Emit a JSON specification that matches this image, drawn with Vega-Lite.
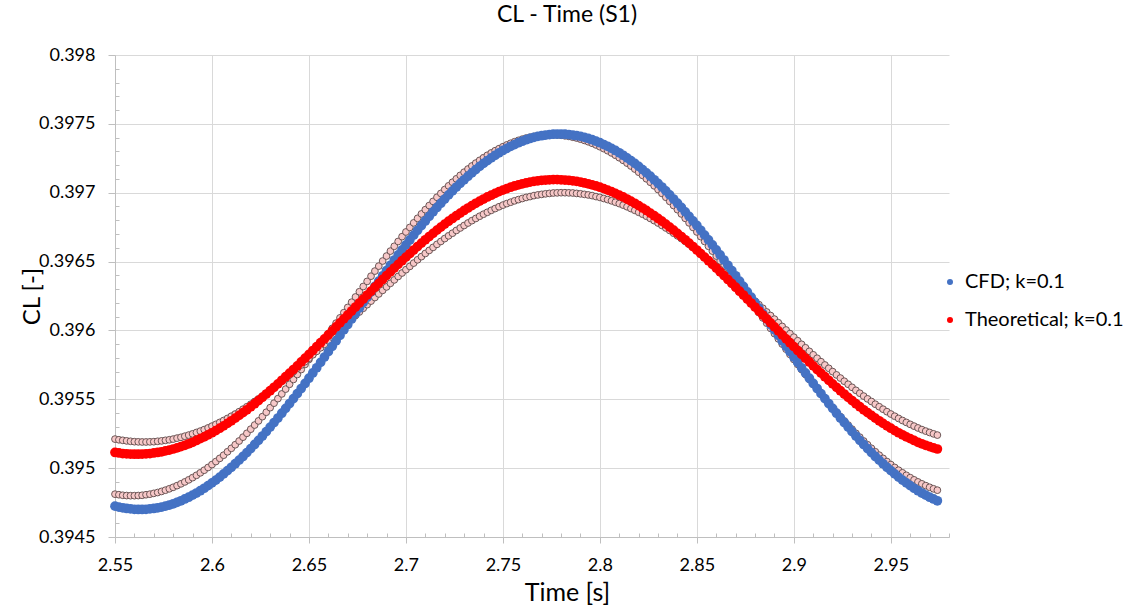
{
  "$schema": "https://vega.github.io/schema/vega-lite/v6.json",
  "width": 834,
  "height": 482,
  "autosize": "none",
  "padding": {"left": 115, "top": 55, "right": 186, "bottom": 70},
  "background": "white",
  "config": {"font": "Lato", "view": {"stroke": null}},
  "title": {"text": "CL - Time (S1)", "fontSize": 23, "font": "Lato", "fontWeight": "normal", "color": "#000000", "anchor": "middle", "dx": 35, "offset": 19},
  "data": {"values": [
{"t":2.550,"a":0.394724,"b":0.395114,"c":0.394811,"d":0.395211},
{"t":2.552,"a":0.394717,"b":0.395110,"c":0.394807,"d":0.395206},
{"t":2.554,"a":0.394712,"b":0.395106,"c":0.394803,"d":0.395202},
{"t":2.556,"a":0.394707,"b":0.395104,"c":0.394801,"d":0.395198},
{"t":2.558,"a":0.394704,"b":0.395102,"c":0.394800,"d":0.395195},
{"t":2.560,"a":0.394701,"b":0.395101,"c":0.394800,"d":0.395192},
{"t":2.562,"a":0.394700,"b":0.395101,"c":0.394801,"d":0.395191},
{"t":2.564,"a":0.394700,"b":0.395102,"c":0.394803,"d":0.395190},
{"t":2.566,"a":0.394701,"b":0.395104,"c":0.394807,"d":0.395190},
{"t":2.568,"a":0.394704,"b":0.395106,"c":0.394811,"d":0.395191},
{"t":2.570,"a":0.394707,"b":0.395110,"c":0.394817,"d":0.395192},
{"t":2.572,"a":0.394712,"b":0.395114,"c":0.394823,"d":0.395195},
{"t":2.574,"a":0.394717,"b":0.395119,"c":0.394831,"d":0.395198},
{"t":2.576,"a":0.394724,"b":0.395125,"c":0.394840,"d":0.395202},
{"t":2.578,"a":0.394732,"b":0.395131,"c":0.394850,"d":0.395206},
{"t":2.580,"a":0.394741,"b":0.395139,"c":0.394861,"d":0.395211},
{"t":2.582,"a":0.394752,"b":0.395147,"c":0.394873,"d":0.395218},
{"t":2.584,"a":0.394763,"b":0.395156,"c":0.394886,"d":0.395224},
{"t":2.586,"a":0.394776,"b":0.395166,"c":0.394900,"d":0.395232},
{"t":2.588,"a":0.394789,"b":0.395177,"c":0.394915,"d":0.395240},
{"t":2.590,"a":0.394804,"b":0.395188,"c":0.394931,"d":0.395249},
{"t":2.592,"a":0.394819,"b":0.395201,"c":0.394948,"d":0.395259},
{"t":2.594,"a":0.394836,"b":0.395214,"c":0.394966,"d":0.395269},
{"t":2.596,"a":0.394854,"b":0.395227,"c":0.394985,"d":0.395280},
{"t":2.598,"a":0.394873,"b":0.395242,"c":0.395005,"d":0.395292},
{"t":2.600,"a":0.394893,"b":0.395257,"c":0.395026,"d":0.395305},
{"t":2.602,"a":0.394913,"b":0.395273,"c":0.395048,"d":0.395318},
{"t":2.604,"a":0.394935,"b":0.395290,"c":0.395071,"d":0.395332},
{"t":2.606,"a":0.394958,"b":0.395307,"c":0.395094,"d":0.395346},
{"t":2.608,"a":0.394982,"b":0.395325,"c":0.395119,"d":0.395361},
{"t":2.610,"a":0.395006,"b":0.395344,"c":0.395144,"d":0.395377},
{"t":2.612,"a":0.395032,"b":0.395363,"c":0.395170,"d":0.395393},
{"t":2.614,"a":0.395058,"b":0.395383,"c":0.395197,"d":0.395410},
{"t":2.616,"a":0.395085,"b":0.395403,"c":0.395225,"d":0.395428},
{"t":2.618,"a":0.395113,"b":0.395424,"c":0.395253,"d":0.395446},
{"t":2.620,"a":0.395142,"b":0.395446,"c":0.395283,"d":0.395464},
{"t":2.622,"a":0.395172,"b":0.395468,"c":0.395313,"d":0.395484},
{"t":2.624,"a":0.395202,"b":0.395491,"c":0.395343,"d":0.395503},
{"t":2.626,"a":0.395233,"b":0.395514,"c":0.395374,"d":0.395523},
{"t":2.628,"a":0.395265,"b":0.395538,"c":0.395406,"d":0.395544},
{"t":2.630,"a":0.395298,"b":0.395562,"c":0.395439,"d":0.395565},
{"t":2.632,"a":0.395331,"b":0.395587,"c":0.395472,"d":0.395587},
{"t":2.634,"a":0.395364,"b":0.395612,"c":0.395505,"d":0.395609},
{"t":2.636,"a":0.395399,"b":0.395638,"c":0.395539,"d":0.395631},
{"t":2.638,"a":0.395434,"b":0.395664,"c":0.395574,"d":0.395654},
{"t":2.640,"a":0.395469,"b":0.395690,"c":0.395609,"d":0.395677},
{"t":2.642,"a":0.395505,"b":0.395716,"c":0.395644,"d":0.395701},
{"t":2.644,"a":0.395541,"b":0.395743,"c":0.395680,"d":0.395725},
{"t":2.646,"a":0.395578,"b":0.395771,"c":0.395716,"d":0.395749},
{"t":2.648,"a":0.395615,"b":0.395798,"c":0.395753,"d":0.395773},
{"t":2.650,"a":0.395653,"b":0.395826,"c":0.395789,"d":0.395798},
{"t":2.652,"a":0.395691,"b":0.395854,"c":0.395826,"d":0.395823},
{"t":2.654,"a":0.395729,"b":0.395882,"c":0.395864,"d":0.395848},
{"t":2.656,"a":0.395768,"b":0.395911,"c":0.395901,"d":0.395874},
{"t":2.658,"a":0.395807,"b":0.395939,"c":0.395939,"d":0.395899},
{"t":2.660,"a":0.395846,"b":0.395968,"c":0.395977,"d":0.395925},
{"t":2.662,"a":0.395885,"b":0.395997,"c":0.396015,"d":0.395951},
{"t":2.664,"a":0.395924,"b":0.396026,"c":0.396053,"d":0.395977},
{"t":2.666,"a":0.395964,"b":0.396055,"c":0.396091,"d":0.396003},
{"t":2.668,"a":0.396004,"b":0.396084,"c":0.396129,"d":0.396029},
{"t":2.670,"a":0.396043,"b":0.396112,"c":0.396167,"d":0.396056},
{"t":2.672,"a":0.396083,"b":0.396141,"c":0.396205,"d":0.396082},
{"t":2.674,"a":0.396122,"b":0.396170,"c":0.396243,"d":0.396108},
{"t":2.676,"a":0.396162,"b":0.396199,"c":0.396281,"d":0.396134},
{"t":2.678,"a":0.396202,"b":0.396228,"c":0.396319,"d":0.396161},
{"t":2.680,"a":0.396241,"b":0.396257,"c":0.396356,"d":0.396187},
{"t":2.682,"a":0.396280,"b":0.396285,"c":0.396394,"d":0.396213},
{"t":2.684,"a":0.396319,"b":0.396314,"c":0.396431,"d":0.396239},
{"t":2.686,"a":0.396358,"b":0.396342,"c":0.396467,"d":0.396265},
{"t":2.688,"a":0.396397,"b":0.396370,"c":0.396504,"d":0.396291},
{"t":2.690,"a":0.396435,"b":0.396398,"c":0.396540,"d":0.396316},
{"t":2.692,"a":0.396473,"b":0.396425,"c":0.396576,"d":0.396342},
{"t":2.694,"a":0.396511,"b":0.396453,"c":0.396611,"d":0.396367},
{"t":2.696,"a":0.396548,"b":0.396480,"c":0.396646,"d":0.396392},
{"t":2.698,"a":0.396585,"b":0.396506,"c":0.396681,"d":0.396417},
{"t":2.700,"a":0.396621,"b":0.396532,"c":0.396715,"d":0.396441},
{"t":2.702,"a":0.396657,"b":0.396558,"c":0.396748,"d":0.396465},
{"t":2.704,"a":0.396692,"b":0.396584,"c":0.396781,"d":0.396489},
{"t":2.706,"a":0.396727,"b":0.396609,"c":0.396814,"d":0.396513},
{"t":2.708,"a":0.396762,"b":0.396634,"c":0.396846,"d":0.396536},
{"t":2.710,"a":0.396795,"b":0.396658,"c":0.396877,"d":0.396559},
{"t":2.712,"a":0.396828,"b":0.396682,"c":0.396907,"d":0.396581},
{"t":2.714,"a":0.396861,"b":0.396705,"c":0.396937,"d":0.396603},
{"t":2.716,"a":0.396893,"b":0.396728,"c":0.396967,"d":0.396625},
{"t":2.718,"a":0.396924,"b":0.396750,"c":0.396995,"d":0.396646},
{"t":2.720,"a":0.396954,"b":0.396772,"c":0.397023,"d":0.396667},
{"t":2.722,"a":0.396984,"b":0.396793,"c":0.397050,"d":0.396687},
{"t":2.724,"a":0.397013,"b":0.396813,"c":0.397076,"d":0.396706},
{"t":2.726,"a":0.397041,"b":0.396833,"c":0.397101,"d":0.396726},
{"t":2.728,"a":0.397068,"b":0.396852,"c":0.397126,"d":0.396744},
{"t":2.730,"a":0.397094,"b":0.396871,"c":0.397149,"d":0.396762},
{"t":2.732,"a":0.397120,"b":0.396889,"c":0.397172,"d":0.396780},
{"t":2.734,"a":0.397144,"b":0.396906,"c":0.397194,"d":0.396797},
{"t":2.736,"a":0.397168,"b":0.396923,"c":0.397215,"d":0.396813},
{"t":2.738,"a":0.397191,"b":0.396939,"c":0.397235,"d":0.396829},
{"t":2.740,"a":0.397213,"b":0.396954,"c":0.397254,"d":0.396844},
{"t":2.742,"a":0.397233,"b":0.396969,"c":0.397272,"d":0.396858},
{"t":2.744,"a":0.397253,"b":0.396982,"c":0.397289,"d":0.396872},
{"t":2.746,"a":0.397272,"b":0.396995,"c":0.397305,"d":0.396885},
{"t":2.748,"a":0.397290,"b":0.397008,"c":0.397320,"d":0.396898},
{"t":2.750,"a":0.397307,"b":0.397019,"c":0.397334,"d":0.396910},
{"t":2.752,"a":0.397322,"b":0.397030,"c":0.397347,"d":0.396921},
{"t":2.754,"a":0.397337,"b":0.397040,"c":0.397359,"d":0.396931},
{"t":2.756,"a":0.397350,"b":0.397049,"c":0.397370,"d":0.396941},
{"t":2.758,"a":0.397363,"b":0.397057,"c":0.397380,"d":0.396950},
{"t":2.760,"a":0.397374,"b":0.397065,"c":0.397389,"d":0.396958},
{"t":2.762,"a":0.397385,"b":0.397071,"c":0.397397,"d":0.396966},
{"t":2.764,"a":0.397394,"b":0.397077,"c":0.397403,"d":0.396972},
{"t":2.766,"a":0.397402,"b":0.397082,"c":0.397409,"d":0.396979},
{"t":2.768,"a":0.397409,"b":0.397086,"c":0.397413,"d":0.396984},
{"t":2.770,"a":0.397414,"b":0.397090,"c":0.397417,"d":0.396988},
{"t":2.772,"a":0.397419,"b":0.397092,"c":0.397419,"d":0.396992},
{"t":2.774,"a":0.397422,"b":0.397094,"c":0.397420,"d":0.396995},
{"t":2.776,"a":0.397425,"b":0.397095,"c":0.397420,"d":0.396998},
{"t":2.778,"a":0.397426,"b":0.397095,"c":0.397419,"d":0.396999},
{"t":2.780,"a":0.397426,"b":0.397094,"c":0.397417,"d":0.397000},
{"t":2.782,"a":0.397425,"b":0.397092,"c":0.397413,"d":0.397000},
{"t":2.784,"a":0.397422,"b":0.397090,"c":0.397409,"d":0.396999},
{"t":2.786,"a":0.397419,"b":0.397086,"c":0.397403,"d":0.396998},
{"t":2.788,"a":0.397414,"b":0.397082,"c":0.397397,"d":0.396995},
{"t":2.790,"a":0.397409,"b":0.397077,"c":0.397389,"d":0.396992},
{"t":2.792,"a":0.397402,"b":0.397071,"c":0.397380,"d":0.396988},
{"t":2.794,"a":0.397394,"b":0.397065,"c":0.397370,"d":0.396984},
{"t":2.796,"a":0.397385,"b":0.397057,"c":0.397359,"d":0.396979},
{"t":2.798,"a":0.397374,"b":0.397049,"c":0.397347,"d":0.396972},
{"t":2.800,"a":0.397363,"b":0.397040,"c":0.397334,"d":0.396966},
{"t":2.802,"a":0.397350,"b":0.397030,"c":0.397320,"d":0.396958},
{"t":2.804,"a":0.397337,"b":0.397019,"c":0.397305,"d":0.396950},
{"t":2.806,"a":0.397322,"b":0.397008,"c":0.397289,"d":0.396941},
{"t":2.808,"a":0.397307,"b":0.396995,"c":0.397272,"d":0.396931},
{"t":2.810,"a":0.397290,"b":0.396982,"c":0.397254,"d":0.396921},
{"t":2.812,"a":0.397272,"b":0.396969,"c":0.397235,"d":0.396910},
{"t":2.814,"a":0.397253,"b":0.396954,"c":0.397215,"d":0.396898},
{"t":2.816,"a":0.397233,"b":0.396939,"c":0.397194,"d":0.396885},
{"t":2.818,"a":0.397213,"b":0.396923,"c":0.397172,"d":0.396872},
{"t":2.820,"a":0.397191,"b":0.396906,"c":0.397149,"d":0.396858},
{"t":2.822,"a":0.397168,"b":0.396889,"c":0.397126,"d":0.396844},
{"t":2.824,"a":0.397144,"b":0.396871,"c":0.397101,"d":0.396829},
{"t":2.826,"a":0.397120,"b":0.396852,"c":0.397076,"d":0.396813},
{"t":2.828,"a":0.397094,"b":0.396833,"c":0.397050,"d":0.396797},
{"t":2.830,"a":0.397068,"b":0.396813,"c":0.397023,"d":0.396780},
{"t":2.832,"a":0.397041,"b":0.396793,"c":0.396995,"d":0.396762},
{"t":2.834,"a":0.397013,"b":0.396772,"c":0.396967,"d":0.396744},
{"t":2.836,"a":0.396984,"b":0.396750,"c":0.396937,"d":0.396726},
{"t":2.838,"a":0.396954,"b":0.396728,"c":0.396907,"d":0.396706},
{"t":2.840,"a":0.396924,"b":0.396705,"c":0.396877,"d":0.396687},
{"t":2.842,"a":0.396893,"b":0.396682,"c":0.396846,"d":0.396667},
{"t":2.844,"a":0.396861,"b":0.396658,"c":0.396814,"d":0.396646},
{"t":2.846,"a":0.396828,"b":0.396634,"c":0.396781,"d":0.396625},
{"t":2.848,"a":0.396795,"b":0.396609,"c":0.396748,"d":0.396603},
{"t":2.850,"a":0.396762,"b":0.396584,"c":0.396715,"d":0.396581},
{"t":2.852,"a":0.396727,"b":0.396558,"c":0.396681,"d":0.396559},
{"t":2.854,"a":0.396692,"b":0.396532,"c":0.396646,"d":0.396536},
{"t":2.856,"a":0.396657,"b":0.396506,"c":0.396611,"d":0.396513},
{"t":2.858,"a":0.396621,"b":0.396480,"c":0.396576,"d":0.396489},
{"t":2.860,"a":0.396585,"b":0.396453,"c":0.396540,"d":0.396465},
{"t":2.862,"a":0.396548,"b":0.396425,"c":0.396504,"d":0.396441},
{"t":2.864,"a":0.396511,"b":0.396398,"c":0.396467,"d":0.396417},
{"t":2.866,"a":0.396473,"b":0.396370,"c":0.396431,"d":0.396392},
{"t":2.868,"a":0.396435,"b":0.396342,"c":0.396394,"d":0.396367},
{"t":2.870,"a":0.396397,"b":0.396314,"c":0.396356,"d":0.396342},
{"t":2.872,"a":0.396358,"b":0.396285,"c":0.396319,"d":0.396316},
{"t":2.874,"a":0.396319,"b":0.396257,"c":0.396281,"d":0.396291},
{"t":2.876,"a":0.396280,"b":0.396228,"c":0.396243,"d":0.396265},
{"t":2.878,"a":0.396241,"b":0.396199,"c":0.396205,"d":0.396239},
{"t":2.880,"a":0.396202,"b":0.396170,"c":0.396167,"d":0.396213},
{"t":2.882,"a":0.396162,"b":0.396141,"c":0.396129,"d":0.396187},
{"t":2.884,"a":0.396122,"b":0.396112,"c":0.396091,"d":0.396161},
{"t":2.886,"a":0.396083,"b":0.396084,"c":0.396053,"d":0.396134},
{"t":2.888,"a":0.396043,"b":0.396055,"c":0.396015,"d":0.396108},
{"t":2.890,"a":0.396004,"b":0.396026,"c":0.395977,"d":0.396082},
{"t":2.892,"a":0.395964,"b":0.395997,"c":0.395939,"d":0.396056},
{"t":2.894,"a":0.395924,"b":0.395968,"c":0.395901,"d":0.396029},
{"t":2.896,"a":0.395885,"b":0.395939,"c":0.395864,"d":0.396003},
{"t":2.898,"a":0.395846,"b":0.395911,"c":0.395826,"d":0.395977},
{"t":2.900,"a":0.395807,"b":0.395882,"c":0.395789,"d":0.395951},
{"t":2.902,"a":0.395768,"b":0.395854,"c":0.395753,"d":0.395925},
{"t":2.904,"a":0.395729,"b":0.395826,"c":0.395716,"d":0.395899},
{"t":2.906,"a":0.395691,"b":0.395798,"c":0.395680,"d":0.395874},
{"t":2.908,"a":0.395653,"b":0.395771,"c":0.395644,"d":0.395848},
{"t":2.910,"a":0.395615,"b":0.395743,"c":0.395609,"d":0.395823},
{"t":2.912,"a":0.395578,"b":0.395716,"c":0.395574,"d":0.395798},
{"t":2.914,"a":0.395541,"b":0.395690,"c":0.395539,"d":0.395773},
{"t":2.916,"a":0.395505,"b":0.395664,"c":0.395505,"d":0.395749},
{"t":2.918,"a":0.395469,"b":0.395638,"c":0.395472,"d":0.395725},
{"t":2.920,"a":0.395434,"b":0.395612,"c":0.395439,"d":0.395701},
{"t":2.922,"a":0.395399,"b":0.395587,"c":0.395406,"d":0.395677},
{"t":2.924,"a":0.395364,"b":0.395562,"c":0.395374,"d":0.395654},
{"t":2.926,"a":0.395331,"b":0.395538,"c":0.395343,"d":0.395631},
{"t":2.928,"a":0.395298,"b":0.395514,"c":0.395313,"d":0.395609},
{"t":2.930,"a":0.395265,"b":0.395491,"c":0.395283,"d":0.395587},
{"t":2.932,"a":0.395233,"b":0.395468,"c":0.395253,"d":0.395565},
{"t":2.934,"a":0.395202,"b":0.395446,"c":0.395225,"d":0.395544},
{"t":2.936,"a":0.395172,"b":0.395424,"c":0.395197,"d":0.395523},
{"t":2.938,"a":0.395142,"b":0.395403,"c":0.395170,"d":0.395503},
{"t":2.940,"a":0.395113,"b":0.395383,"c":0.395144,"d":0.395484},
{"t":2.942,"a":0.395085,"b":0.395363,"c":0.395119,"d":0.395464},
{"t":2.944,"a":0.395058,"b":0.395344,"c":0.395094,"d":0.395446},
{"t":2.946,"a":0.395032,"b":0.395325,"c":0.395071,"d":0.395428},
{"t":2.948,"a":0.395006,"b":0.395307,"c":0.395048,"d":0.395410},
{"t":2.950,"a":0.394982,"b":0.395290,"c":0.395026,"d":0.395393},
{"t":2.952,"a":0.394958,"b":0.395273,"c":0.395005,"d":0.395377},
{"t":2.954,"a":0.394935,"b":0.395257,"c":0.394985,"d":0.395361},
{"t":2.956,"a":0.394913,"b":0.395242,"c":0.394966,"d":0.395346},
{"t":2.958,"a":0.394893,"b":0.395227,"c":0.394948,"d":0.395332},
{"t":2.960,"a":0.394873,"b":0.395214,"c":0.394931,"d":0.395318},
{"t":2.962,"a":0.394854,"b":0.395201,"c":0.394915,"d":0.395305},
{"t":2.964,"a":0.394836,"b":0.395188,"c":0.394900,"d":0.395292},
{"t":2.966,"a":0.394819,"b":0.395177,"c":0.394886,"d":0.395280},
{"t":2.968,"a":0.394804,"b":0.395166,"c":0.394873,"d":0.395269},
{"t":2.970,"a":0.394789,"b":0.395156,"c":0.394861,"d":0.395259},
{"t":2.972,"a":0.394776,"b":0.395147,"c":0.394850,"d":0.395249},
{"t":2.974,"a":0.394763,"b":0.395139,"c":0.394840,"d":0.395240}
  ]},
  "transform": [{"fold": ["a", "b", "c", "d"], "as": ["s", "v"]}],
  "encoding": {
    "x": {
      "field": "t", "type": "quantitative",
      "scale": {"domain": [2.55, 2.98], "nice": false, "zero": false},
      "axis": {
        "values": [2.55,2.56,2.57,2.58,2.59,2.6,2.61,2.62,2.63,2.64,2.65,2.66,2.67,2.68,2.69,2.7,2.71,2.72,2.73,2.74,2.75,2.76,2.77,2.78,2.79,2.8,2.81,2.82,2.83,2.84,2.85,2.86,2.87,2.88,2.89,2.9,2.91,2.92,2.93,2.94,2.95,2.96,2.97,2.98],
        "labelExpr": "abs(datum.value*20 - round(datum.value*20)) < 0.001 ? format(datum.value, '.2~f') : ''",
        "tickSize": {"condition": {"test": "abs(datum.value*20 - round(datum.value*20)) < 0.001", "value": 6}, "value": -4},
        "grid": true,
        "gridColor": "#D9D9D9",
        "gridWidth": 1,
        "gridOpacity": {"condition": {"test": "abs(datum.value*20 - round(datum.value*20)) < 0.001", "value": 1}, "value": 0},
        "domainColor": "#BFBFBF",
        "tickColor": "#BFBFBF",
        "labelFont": "Lato",
        "labelFontSize": 18,
        "labelColor": "#000000",
        "labelPadding": 13,
        "labelOverlap": false,
        "labelFlush": false,
        "labelBound": false,
        "title": "Time [s]",
        "titleFont": "Lato",
        "titleFontSize": 25,
        "titleFontWeight": "normal",
        "titleColor": "#000000",
        "titleX": 452,
        "titleY": 63,
        "titleAlign": "center",
        "titleBaseline": "alphabetic"
      }
    },
    "y": {
      "field": "v", "type": "quantitative",
      "scale": {"domain": [0.3945, 0.398], "nice": false, "zero": false},
      "axis": {
        "values": [0.3945,0.3946,0.3947,0.3948,0.3949,0.395,0.3951,0.3952,0.3953,0.3954,0.3955,0.3956,0.3957,0.3958,0.3959,0.396,0.3961,0.3962,0.3963,0.3964,0.3965,0.3966,0.3967,0.3968,0.3969,0.397,0.3971,0.3972,0.3973,0.3974,0.3975,0.3976,0.3977,0.3978,0.3979,0.398],
        "labelExpr": "abs(datum.value*2000 - round(datum.value*2000)) < 0.001 ? format(datum.value, '.4~f') : ''",
        "tickSize": {"condition": {"test": "abs(datum.value*2000 - round(datum.value*2000)) < 0.001", "value": 7}, "value": -4},
        "grid": true,
        "gridColor": "#D9D9D9",
        "gridWidth": 1,
        "gridOpacity": {"condition": {"test": "abs(datum.value*2000 - round(datum.value*2000)) < 0.001", "value": 1}, "value": 0},
        "domainColor": "#BFBFBF",
        "tickColor": "#BFBFBF",
        "labelFont": "Lato",
        "labelFontSize": 18,
        "labelColor": "#000000",
        "labelPadding": 13,
        "labelOverlap": false,
        "labelFlush": false,
        "labelBound": false,
        "title": "CL [-]",
        "titleFont": "Lato",
        "titleFontSize": 24,
        "titleFontWeight": "normal",
        "titleColor": "#000000",
        "titleX": -76,
        "titleY": 241,
        "titleAngle": -90,
        "titleAlign": "center",
        "titleBaseline": "alphabetic"
      }
    }
  },
  "layer": [
    {
      "transform": [{"filter": "datum.s == 'c'"}],
      "mark": {"type": "point", "shape": "circle", "filled": true, "fill": "#F7C8C8", "stroke": "#5C4848", "strokeWidth": 0.9, "size": 46, "opacity": 1}
    },
    {
      "transform": [{"filter": "datum.s == 'd'"}],
      "mark": {"type": "point", "shape": "circle", "filled": true, "fill": "#F7C8C8", "stroke": "#5C4848", "strokeWidth": 0.9, "size": 46, "opacity": 1}
    },
    {
      "transform": [{"filter": "datum.s == 'a'"}],
      "mark": {"type": "circle", "size": 95, "opacity": 1},
      "encoding": {
        "color": {
          "datum": "CFD; k=0.1", "type": "nominal",
          "scale": {"domain": ["CFD; k=0.1", "Theoretical; k=0.1"], "range": ["#4472C4", "#FF0000"]},
          "legend": {"title": null, "orient": "none", "legendX": 825, "legendY": 217, "symbolType": "circle", "symbolSize": 36, "symbolStrokeWidth": 0, "labelFont": "Lato", "labelFontSize": 20, "labelColor": "#000000", "labelOffset": 5, "rowPadding": 18}
        }
      }
    },
    {
      "transform": [{"filter": "datum.s == 'b'"}],
      "mark": {"type": "circle", "size": 95, "opacity": 1},
      "encoding": {
        "color": {
          "datum": "Theoretical; k=0.1", "type": "nominal",
          "scale": {"domain": ["CFD; k=0.1", "Theoretical; k=0.1"], "range": ["#4472C4", "#FF0000"]},
          "legend": {"title": null, "orient": "none", "legendX": 825, "legendY": 217, "symbolType": "circle", "symbolSize": 36, "symbolStrokeWidth": 0, "labelFont": "Lato", "labelFontSize": 20, "labelColor": "#000000", "labelOffset": 5, "rowPadding": 18}
        }
      }
    }
  ]
}
